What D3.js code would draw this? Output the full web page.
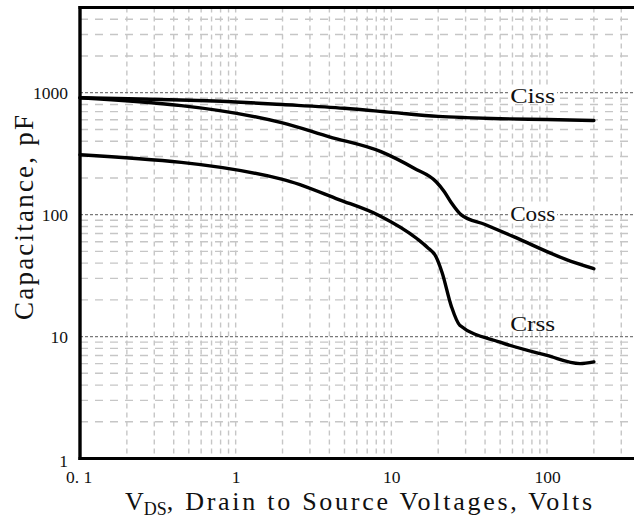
<!DOCTYPE html>
<html>
<head>
<meta charset="utf-8">
<script src="https://cdn.jsdelivr.net/npm/d3@7"></script>
<style>
  html, body { margin: 0; padding: 0; background: #fff; }
  svg { display: block; }
</style>
</head>
<body>
<svg id="chart" width="634" height="518"></svg>
<script>
// ---- data ----
const cissV = [0.1, 1, 2, 5, 10, 20, 30, 50, 100, 200];
const cissC = [910, 840, 800, 745, 690, 640, 625, 612, 603, 592];

const cossV = [0.1, 2, 4, 8.5, 14, 19.4, 21.9, 24.3, 28, 40, 61, 132, 200];
const cossC = [910, 565, 435, 330, 240, 186, 154, 125, 100, 83, 66, 43, 36];

const crssV = [0.1, 2, 4.6, 8.4, 14.5, 17, 19.4, 21.2, 24.3, 27.5, 50, 100, 163, 200];
const crssC = [310, 195, 133, 98, 64, 54, 45, 33.4, 17.7, 12.4, 9.0, 7.0, 6.0, 6.2];

const seriesNames = ["Ciss", "Coss", "Crss"];
const labelAt = [[58, 1000], [58, 100], [58, 10]];   // data coords of label anchors (left edge)

const xTickValues = [0.1, 1, 10, 100];
const xTickLabels = ["0. 1", "1", "10", "100"];
const yTickValues = [1, 10, 100, 1000];
const yTickLabels = ["1", "10", "100", "1000"];

const xTitleMain = "V";
const xTitleSub = "DS";
const xTitleRest = ", Drain to Source Voltages, Volts";
const yTitle = "Capacitance, pF";

// ---- layout ----
const W = 634, H = 518;
const pLeft = 80, pTop = 7.5, pBottom = 458.5;
const svg = d3.select("#chart");

const x = d3.scaleLog().domain([0.1, 100]).range([pLeft, 547]);
const y = d3.scaleLog().domain([1, 5000]).range([pBottom, pTop]);

// minor grid values
const decadesX = [0.1, 1, 10, 100];
const vGrid = [];
decadesX.forEach(d => { for (let k = 1; k <= 9; k++) { const v = d * k; if (v > 0.1 && v <= 300) vGrid.push(v); } });
const vGridU = Array.from(new Set(vGrid.map(v => +v.toPrecision(3))));

const hGrid = [];
[1, 10, 100, 1000].forEach(d => { for (let k = 2; k <= 9; k++) { const v = d * k; if (v < 5000) hGrid.push(v); } });

const grid = svg.append("g");
grid.selectAll("line.v").data(vGridU).join("line")
  .attr("x1", d => x(d)).attr("x2", d => x(d))
  .attr("y1", pTop).attr("y2", pBottom)
  .attr("stroke", "#c6c6c6").attr("stroke-width", 1.4)
  .attr("stroke-dasharray", "5,4");
grid.selectAll("line.h").data(hGrid).join("line")
  .attr("x1", pLeft).attr("x2", W)
  .attr("y1", d => y(d)).attr("y2", d => y(d))
  .attr("stroke", "#c6c6c6").attr("stroke-width", 1.4)
  .attr("stroke-dasharray", "8,7");
grid.selectAll("line.maj").data([10, 100, 1000]).join("line")
  .attr("x1", pLeft).attr("x2", W)
  .attr("y1", d => y(d)).attr("y2", d => y(d))
  .attr("stroke", "#7a7a7a").attr("stroke-width", 1.2)
  .attr("stroke-dasharray", "3,2");

// curves
const line = d3.line().x(d => x(d[0])).y(d => y(d[1])).curve(d3.curveMonotoneX);
const series = [
  d3.zip(cissV, cissC),
  d3.zip(cossV, cossC),
  d3.zip(crssV, crssC)
];
svg.append("g").selectAll("path").data(series).join("path")
  .attr("d", line).attr("fill", "none")
  .attr("stroke", "#000").attr("stroke-width", 3.4)
  .attr("stroke-linejoin", "round").attr("stroke-linecap", "round");

// series labels with white background
const baseOffsets = [10, 6, -6];
const lab = svg.append("g");
seriesNames.forEach((name, i) => {
  const lx = x(labelAt[i][0]);
  const by = y(labelAt[i][1]) + baseOffsets[i];
  if (i < 2) {
    lab.append("rect").attr("x", lx - 2).attr("y", by - 16).attr("width", 49).attr("height", 17).attr("fill", "#fff");
  }
  lab.append("text").attr("x", lx).attr("y", by)
    .attr("font-family", "'Liberation Serif', 'DejaVu Serif', serif")
    .attr("font-size", 21).attr("fill", "#111")
    .attr("textLength", 45).attr("lengthAdjust", "spacingAndGlyphs")
    .text(name);
});

// axes (tick labels via d3 axes)
const tickFont = "'Liberation Serif', 'DejaVu Serif', serif";
const xAxis = d3.axisBottom(x).tickValues(xTickValues)
  .tickFormat((d, i) => xTickLabels[i]).tickSize(0).tickPadding(0);
const gx = svg.append("g").attr("transform", `translate(0, ${pBottom})`).call(xAxis);
gx.select(".domain").remove();
gx.selectAll("text").attr("font-family", tickFont).attr("font-size", 17.5).attr("fill", "#111")
  .attr("dy", null).attr("y", 24);
gx.selectAll(".tick").filter(d => d === 0.1).select("text").attr("dx", -1.5);

const yAxis = d3.axisLeft(y).tickValues(yTickValues)
  .tickFormat((d, i) => yTickLabels[i]).tickSize(0).tickPadding(12);
const gy = svg.append("g").attr("transform", `translate(${pLeft}, 0)`).call(yAxis);
gy.select(".domain").remove();
gy.selectAll("text").attr("font-family", tickFont).attr("font-size", 17.5).attr("fill", "#111")
  .attr("dy", null).attr("y", 6);
gy.selectAll(".tick").filter(d => d === 1).select("text").attr("y", 8);

// frame lines (left, top, bottom)
svg.append("line").attr("x1", pLeft).attr("x2", pLeft).attr("y1", pTop - 1.5).attr("y2", pBottom + 1.5)
  .attr("stroke", "#000").attr("stroke-width", 3.4);
svg.append("line").attr("x1", pLeft - 1.5).attr("x2", W).attr("y1", pTop).attr("y2", pTop)
  .attr("stroke", "#000").attr("stroke-width", 3);
svg.append("line").attr("x1", pLeft - 1.5).attr("x2", W).attr("y1", pBottom).attr("y2", pBottom)
  .attr("stroke", "#000").attr("stroke-width", 3);

// axis titles
const titleFont = "'Liberation Serif', 'DejaVu Serif', serif";
const xt = svg.append("text").attr("x", 125).attr("y", 510)
  .attr("font-family", titleFont).attr("font-size", 26).attr("fill", "#111");
const tV = xt.append("tspan").text(xTitleMain);
const tS = xt.append("tspan").attr("font-size", 18).attr("dy", 5).text(xTitleSub);
const tR = xt.append("tspan").attr("dy", -5).text(xTitleRest);
// spread the long part so it ends where the reference ends
const natV = tV.node().getComputedTextLength();
const natS = tS.node().getComputedTextLength();
const natR = tR.node().getComputedTextLength();
tS.attr("dx", Math.max(0, 143 - 125 - natV));
const startR = 125 + Math.max(natV, 18) + natS;
const spacing = (592 - startR - natR) / (xTitleRest.length - 1);
tR.attr("letter-spacing", spacing.toFixed(2));

svg.append("text").attr("transform", "translate(33, 320) rotate(-90)")
  .attr("font-family", titleFont).attr("font-size", 27).attr("fill", "#111")
  .attr("textLength", 205).attr("lengthAdjust", "spacing").text(yTitle);
</script>
</body>
</html>
